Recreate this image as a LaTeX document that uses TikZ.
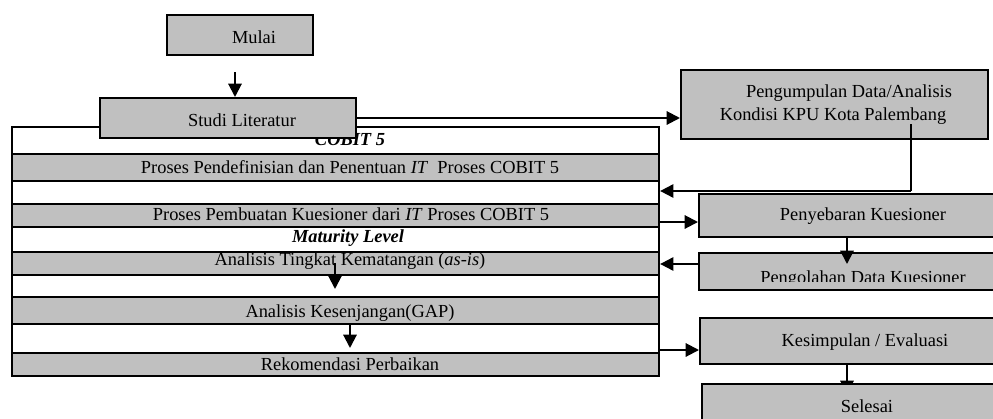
\documentclass[tikz,border=0pt]{standalone}
\usepackage{fontspec}
\setmainfont{Liberation Serif}
\usetikzlibrary{arrows.meta}
\definecolor{boxgray}{HTML}{C0C0C0}
\begin{document}
\begin{tikzpicture}[x=0.75pt,y=-0.75pt,
  box/.style={draw=black,fill=boxgray,line width=1.5pt,inner sep=0pt,anchor=north west},
  wbox/.style={draw=black,fill=white,line width=1.6pt,inner sep=0pt,anchor=north west},
  txt/.style={font=\fontsize{13.8}{16}\selectfont,inner sep=0pt,anchor=base},
  btxt/.style={txt,font=\fontsize{13.8}{16}\selectfont\bfseries\itshape},
  arr/.style={line width=1.5pt,-{Triangle[width=10pt,length=10pt]}},
  ln/.style={line width=1.5pt}]
\useasboundingbox (0,0) rectangle (993,418);
\clip (0,0) rectangle (993,418);
% container and rows
\node[wbox,minimum width={647*0.75pt},minimum height={249*0.75pt}] (cont) at (11,126) {};
\node[box,minimum width={647*0.75pt},minimum height={27*0.75pt}] (r1) at (11,153) {};
\node[box,minimum width={647*0.75pt},minimum height={23*0.75pt}] (r2) at (11,203) {};
\node[box,minimum width={647*0.75pt},minimum height={23*0.75pt}] (r3) at (11,251) {};
\node[box,minimum width={647*0.75pt},minimum height={27*0.75pt}] (r4) at (11,296) {};
\node[box,minimum width={647*0.75pt},minimum height={23*0.75pt}] (r5) at (11,352) {};
\node[wbox,fill=none,minimum width={647*0.75pt},minimum height={249*0.75pt}] (contf) at (11,126) {};
\node[btxt] (tcobit) at (350,145) {COBIT 5};
% connector from Studi (under box)
\coordinate (s1) at (355,118);
% boxes
\node[box,minimum width={146*0.75pt},minimum height={40*0.75pt}] (mulai) at (166,14) {};
\node[box,minimum width={256*0.75pt},minimum height={40*0.75pt}] (studi) at (99,97) {};
\node[box,minimum width={307*0.75pt},minimum height={69*0.75pt}] (peng) at (680,69) {};
\node[box,minimum width={320*0.75pt},minimum height={43*0.75pt}] (sebar) at (698,193) {};
\node[box,minimum width={320*0.75pt},minimum height={37*0.75pt}] (olah) at (698,252) {};
\node[box,minimum width={320*0.75pt},minimum height={46*0.75pt}] (simp) at (699,317) {};
% arrow Kesimpulan -> Selesai (tip hidden under Selesai)
\coordinate (k1) at (847,363);
\draw[arr] (k1) -- (847,394);
\node[box,minimum width={320*0.75pt},minimum height={60*0.75pt}] (selesai) at (701,383) {};
% texts
\node[txt] (tmulai) at (254,43) {Mulai};
\node[txt] (tstudi) at (242,126) {Studi Literatur};
\node[txt] (t1) at (350,173) {Proses Pendefinisian dan Penentuan \textit{IT}\ \ Proses COBIT 5};
\node[txt] (t2) at (351,220) {Proses Pembuatan Kuesioner dari \textit{IT} Proses COBIT 5};
\node[btxt] (tmat) at (348,242) {Maturity Level};
\node[txt] (t3) at (350,265) {Analisis Tingkat Kematangan (\textit{as-is})};
\node[txt] (t4) at (350,317) {Analisis Kesenjangan(GAP)};
\node[txt] (t5) at (350,370) {Rekomendasi Perbaikan};
\node[txt] (tpeng1) at (849,97) {Pengumpulan Data/Analisis};
\node[txt] (tpeng2) at (833,120) {Kondisi KPU Kota Palembang};
\node[txt] (tsebar) at (863,220) {Penyebaran Kuesioner};
\begin{scope}
\clip (698,252) rectangle (1000,281);
\node[txt] (tolah) at (863,283) {Pengolahan Data Kuesioner};
\end{scope}
\node[txt] (tsimp) at (865,346) {Kesimpulan / Evaluasi};
\node[txt] (tsel) at (867,412) {Selesai};
% connectors
\coordinate (m1) at (235,72);
\draw[arr] (m1) -- (m1 |- studi.north);
\draw[arr] (s1) -- (s1 -| peng.west);
\coordinate (p1) at (911,124);
\coordinate (p2) at (911,191);
\draw[ln] (p1) -- (p2);
\draw[arr] (p2) -- (p2 -| cont.east);
\coordinate (c1) at (658,222);
\draw[arr] (c1) -- (c1 -| sebar.west);
\coordinate (e1) at (847,236);
\draw[arr] (e1) -- (847,264);
\coordinate (o1) at (698,264);
\draw[arr] (o1) -- (o1 -| cont.east);
\coordinate (c2) at (658,350);
\draw[arr] (c2) -- (c2 -| simp.west);
\coordinate (i1) at (335,263);
\draw[arr] (i1) -- (335,289);
\coordinate (i2) at (350,324);
\draw[arr] (i2) -- (350,348);
\end{tikzpicture}
\end{document}
